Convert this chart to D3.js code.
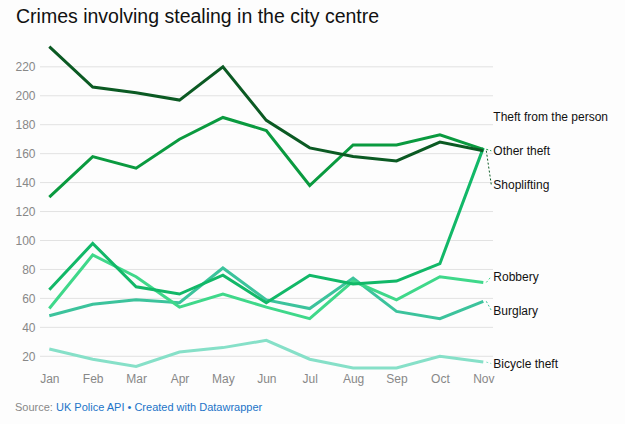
<!DOCTYPE html>
<html>
<head>
<meta charset="utf-8">
<script src="https://cdn.jsdelivr.net/npm/d3@7"></script>
<style>
  body { margin: 0; background: #fdfdfd; font-family: "Liberation Sans", Arial, sans-serif; }
  svg { display: block; }
</style>
</head>
<body>
<div id="chart"></div>
<script>
// data
const months = ["Jan", "Feb", "Mar", "Apr", "May", "Jun", "Jul", "Aug", "Sep", "Oct", "Nov"];
const yTicks = [20, 40, 60, 80, 100, 120, 140, 160, 180, 200, 220];

const shoplifting      = [234, 206, 202, 197, 220, 183, 164, 158, 155, 168, 162];
const otherTheft       = [130, 158, 150, 170, 185, 176, 138, 166, 166, 173, 163];
const theftFromPerson  = [66, 98, 68, 63, 76, 57, 76, 70, 72, 84, 164];
const robbery          = [53, 90, 75, 54, 63, 54, 46, 72, 59, 75, 71];
const burglary         = [48, 56, 59, 57, 81, 59, 53, 74, 51, 46, 58];
const bicycleTheft     = [25, 18, 13, 23, 26, 31, 18, 12, 12, 20, 16];

const series = [
  { name: "Shoplifting", values: shoplifting, color: "#0b5a23", connector: true },
  { name: "Other theft", values: otherTheft, color: "#0a9a3f", connector: true },
  { name: "Theft from the person", values: theftFromPerson, color: "#12b868", connector: false },
  { name: "Robbery", values: robbery, color: "#3fd88a", connector: true },
  { name: "Burglary", values: burglary, color: "#3cc39c", connector: true },
  { name: "Bicycle theft", values: bicycleTheft, color: "#86e0c8", connector: true }
];

const width = 625, height = 424;

const svg = d3.select("#chart").append("svg")
    .attr("width", width)
    .attr("height", height);

// title
svg.append("text")
    .attr("x", 16)
    .attr("y", 23)
    .attr("font-size", 19.5)
    .attr("fill", "#111")
    .text("Crimes involving stealing in the city centre");

const x = d3.scalePoint()
    .domain(months)
    .range([49.3, 483.3]);

const y = d3.scaleLinear()
    .domain([20, 220])
    .range([356.3, 66.8]);

// gridlines + y labels
const grid = svg.append("g");
grid.selectAll("line")
    .data(yTicks)
    .join("line")
        .attr("x1", 40)
        .attr("x2", 493)
        .attr("y1", d => y(d))
        .attr("y2", d => y(d))
        .attr("stroke", "#e2e2e2")
        .attr("stroke-width", 1);
grid.selectAll("text")
    .data(yTicks)
    .join("text")
        .attr("x", 35.5)
        .attr("y", d => y(d))
        .attr("dy", "0.35em")
        .attr("text-anchor", "end")
        .attr("font-size", 12)
        .attr("fill", "#888")
        .text(d => d);

// x axis labels
svg.append("g")
    .attr("transform", "translate(0,379)")
    .call(d3.axisBottom(x).tickSize(0).tickPadding(0))
    .call(g => g.select(".domain").remove())
    .call(g => g.selectAll("text")
        .attr("dy", "0.35em")
        .attr("font-size", 12)
        .attr("font-family", "Liberation Sans, Arial, sans-serif")
        .attr("fill", "#888"));

// lines
const line = d3.line()
    .x((d, i) => x(months[i]))
    .y(d => y(d));

svg.append("g")
    .selectAll("path")
    .data(series.slice().reverse())
    .join("path")
        .attr("d", d => line(d.values))
        .attr("fill", "none")
        .attr("stroke", d => d.color)
        .attr("stroke-width", 3)
        .attr("stroke-linejoin", "miter")
        .attr("stroke-linecap", "butt");

// direct labels, pushed apart when they collide
const minGap = 34;
const labels = series.map(s => ({ s: s, y0: y(s.values[s.values.length - 1]) }))
    .sort((a, b) => a.y0 - b.y0);
let groups = labels.map(l => ({ items: [l], mean: l.y0 }));
let merged = true;
while (merged) {
  merged = false;
  for (let i = 0; i < groups.length - 1; i++) {
    const a = groups[i], b = groups[i + 1];
    const aBottom = a.mean + (a.items.length - 1) * minGap / 2;
    const bTop = b.mean - (b.items.length - 1) * minGap / 2;
    if (bTop - aBottom < minGap) {
      const items = a.items.concat(b.items);
      const mean = d3.mean(items, d => d.y0);
      groups.splice(i, 2, { items: items, mean: mean });
      merged = true;
      break;
    }
  }
}
groups.forEach(g => {
  g.items.forEach((l, k) => {
    l.y = g.mean + (k - (g.items.length - 1) / 2) * minGap + 1.5;
  });
});

const xEnd = x(months[months.length - 1]);

svg.append("g")
    .selectAll("path")
    .data(labels.filter(l => l.s.connector))
    .join("path")
        .attr("d", l => `M${xEnd + 3},${l.y0}L${xEnd + 8},${l.y}`)
        .attr("fill", "none")
        .attr("stroke", l => l.s.color)
        .attr("stroke-width", 1)
        .attr("stroke-dasharray", "2,2");

svg.append("g")
    .selectAll("text")
    .data(labels)
    .join("text")
        .attr("x", xEnd + 10)
        .attr("y", l => l.y)
        .attr("dy", "0.35em")
        .attr("font-size", 12)
        .attr("fill", "#111")
        .text(l => l.s.name);

// footer
const foot = svg.append("text")
    .attr("x", 15)
    .attr("y", 411)
    .attr("font-size", 11);
foot.append("tspan").attr("fill", "#888").text("Source: ");
foot.append("tspan").attr("fill", "#1c74c8").text("UK Police API");
foot.append("tspan").attr("fill", "#1c74c8").text(" \u2022 ");
foot.append("tspan").attr("fill", "#1c74c8").text("Created with Datawrapper");
</script>
</body>
</html>
